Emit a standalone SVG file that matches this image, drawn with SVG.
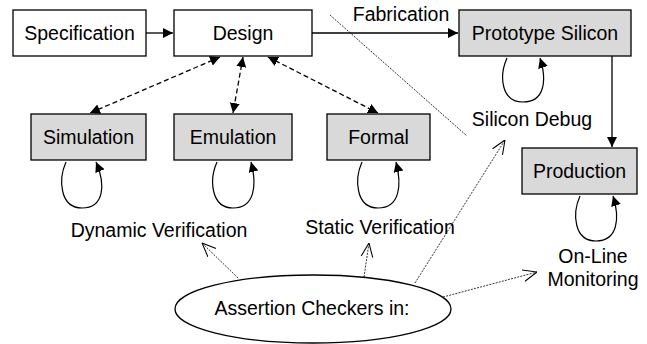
<svg xmlns="http://www.w3.org/2000/svg" width="647" height="344" viewBox="0 0 647 344">
<style>
text{font-family:"Liberation Sans",Arial,sans-serif;font-size:19.5px;fill:#000;text-anchor:middle}
.box{fill:#fff;stroke:#000;stroke-width:1.3}
.gray{fill:#d9d9d9;stroke:#000;stroke-width:1.3}
.solid{fill:none;stroke:#000;stroke-width:1.3}
.dash{fill:none;stroke:#000;stroke-width:1.3;stroke-dasharray:5,3}
.dot{fill:none;stroke:#000;stroke-width:0.8;stroke-dasharray:2,1.2}
.loop{fill:none;stroke:#000;stroke-width:1.2}
</style>
<defs>
<marker id="ah" viewBox="0 0 10 10" refX="10" refY="5" markerWidth="10" markerHeight="10" markerUnits="userSpaceOnUse" orient="auto-start-reverse">
<path d="M0,0 L10,5 L0,10 Z" fill="#000"/>
</marker>
<marker id="open" viewBox="0 0 12 12" refX="12" refY="6" markerWidth="14" markerHeight="14" markerUnits="userSpaceOnUse" orient="auto">
<path d="M0,1 L12,6 L0,11" fill="none" stroke="#000" stroke-width="0.9"/>
</marker>
</defs>
<g id="connectors">
<line class="solid" x1="146" y1="33" x2="173" y2="33" marker-end="url(#ah)"/>
<line class="solid" x1="312" y1="33" x2="458" y2="33" marker-end="url(#ah)"/>
<line class="solid" x1="612" y1="56" x2="612" y2="147" marker-end="url(#ah)"/>
<line class="dash" x1="220" y1="57" x2="90" y2="113" marker-start="url(#ah)" marker-end="url(#ah)"/>
<line class="dash" x1="243" y1="57" x2="233" y2="113" marker-start="url(#ah)" marker-end="url(#ah)"/>
<line class="dash" x1="268" y1="57" x2="378" y2="113" marker-start="url(#ah)" marker-end="url(#ah)"/>
<line class="dot" x1="330" y1="15" x2="467" y2="136"/>
<path class="loop" d="M66,162 C58,180 60,208 82,208 C104,208 106,185 96,162" marker-end="url(#ah)"/>
<path class="loop" d="M217,162 C209,180 211,208 233,208 C255,208 257,185 251,162" marker-end="url(#ah)"/>
<path class="loop" d="M362,162 C354,180 356,208 378,208 C400,208 402,185 396,162" marker-end="url(#ah)"/>
<path class="loop" d="M507,58 C499,76 501,102 523,102 C545,102 547,80 540,58" marker-end="url(#ah)"/>
<path class="loop" d="M580,196 C572,214 574,241 596,241 C618,241 620,218 613,196" marker-end="url(#ah)"/>
<line class="dot" x1="238" y1="278" x2="202" y2="243" marker-end="url(#open)"/>
<line class="dot" x1="364" y1="277" x2="369" y2="243" marker-end="url(#open)"/>
<line class="dot" x1="415" y1="283" x2="505" y2="140" marker-end="url(#open)"/>
<line class="dot" x1="443" y1="297" x2="537" y2="272" marker-end="url(#open)"/>
</g>
<g id="specification"><rect class="box" x="13" y="10" width="133" height="46"/><text x="79.5" y="40">Specification</text></g>
<g id="design"><rect class="box" x="174" y="10" width="138" height="46"/><text x="243" y="40">Design</text></g>
<g id="prototype"><rect class="gray" x="459" y="10" width="172" height="46"/><text x="545" y="40">Prototype Silicon</text></g>
<g id="simulation"><rect class="gray" x="31" y="114" width="115" height="46"/><text x="88.5" y="144">Simulation</text></g>
<g id="emulation"><rect class="gray" x="174" y="114" width="118" height="46"/><text x="233" y="144">Emulation</text></g>
<g id="formal"><rect class="gray" x="327" y="114" width="103" height="46"/><text x="378.5" y="144">Formal</text></g>
<g id="production"><rect class="gray" x="522" y="148" width="115" height="46"/><text x="579.5" y="178">Production</text></g>
<g id="assertion"><ellipse cx="313" cy="309" rx="138" ry="34" fill="#fff" stroke="#000" stroke-width="1.3"/><text x="312" y="315">Assertion Checkers in:</text></g>
<g id="labels">
<text x="401" y="21">Fabrication</text>
<text x="532" y="126">Silicon Debug</text>
<text x="159" y="237">Dynamic Verification</text>
<text x="380" y="234">Static Verification</text>
<text x="593" y="263">On-Line</text>
<text x="593" y="286">Monitoring</text>
</g>
</svg>
